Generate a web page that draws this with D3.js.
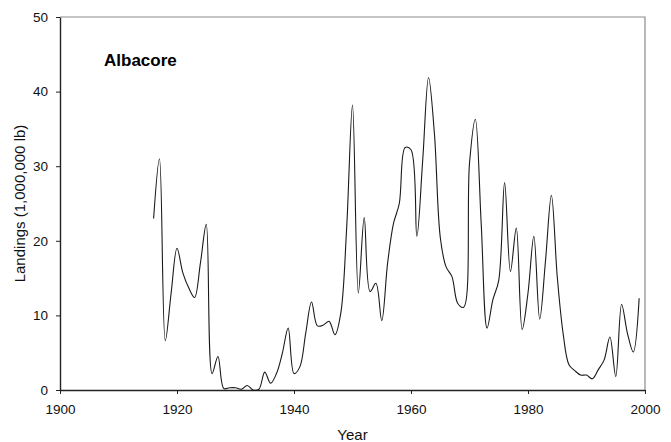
<!DOCTYPE html>
<html>
<head>
<meta charset="utf-8">
<script src="https://cdn.jsdelivr.net/npm/d3@7"></script>
<style>
  html, body { margin: 0; padding: 0; background: #fff; }
  svg { display: block; font-family: "Liberation Sans", Arial, sans-serif; }
</style>
</head>
<body>
<svg id="chart" width="671" height="442"></svg>
<script>
// Albacore landings by year, millions of pounds
const years = d3.range(1916, 2000);
const landings = [
  23.0, 31.0, 6.6, 13.0, 19.0, 15.7, 13.7, 12.4, 17.0, 22.2,
  2.2, 4.5, 0.2, 0.3, 0.3, 0.1, 0.6, 0.0, 0.1, 2.4,
  0.9, 2.2, 4.9, 8.3, 2.2, 3.1, 7.6, 11.8, 8.6, 8.7,
  9.2, 7.4, 10.3, 21.7, 38.2, 13.0, 23.1, 13.2, 14.3, 9.3,
  17.0, 22.3, 25.0, 32.5, 32.2, 20.6, 30.8, 41.9, 34.4, 20.5,
  16.5, 15.2, 11.6, 11.1, 30.4, 36.3, 22.3, 8.3, 12.1, 14.7,
  27.8, 15.9, 21.7, 8.1, 13.0, 20.6, 9.5, 17.4, 26.1, 15.2,
  7.6, 3.4, 2.6, 2.0, 2.0, 1.5, 2.7, 4.0, 7.1, 1.8,
  11.5, 7.6, 5.1, 12.3
];
const xTicks = [1900, 1920, 1940, 1960, 1980, 2000];
const yTicks = [0, 10, 20, 30, 40, 50];

const svg = d3.select("#chart");
const plotLeft = 60, plotRight = 645, plotTop = 17, plotBottom = 390;

const x = d3.scaleLinear().domain([1900, 2000]).range([plotLeft, plotRight]);
const y = d3.scaleLinear().domain([0, 50]).range([plotBottom, plotTop]);

// grey frame on top and right
svg.append("path")
  .attr("d", `M${plotLeft},${plotTop}H${plotRight}V${plotBottom}`)
  .attr("fill", "none")
  .attr("stroke", "#8c8c8c")
  .attr("stroke-width", 1.2);

// x axis
const xAxis = svg.append("g")
  .attr("transform", `translate(0,${plotBottom})`)
  .call(d3.axisBottom(x).tickValues(xTicks).tickFormat(d3.format("d"))
    .tickSize(4).tickPadding(10).tickSizeOuter(0));
xAxis.select(".domain").attr("stroke", "#222").attr("stroke-width", 1.4);
xAxis.selectAll(".tick line").attr("stroke", "#222");
xAxis.selectAll(".tick text").attr("font-size", 13.5).attr("fill", "#111")
  .attr("font-family", "Liberation Sans, Arial, sans-serif");

// y axis
const yAxis = svg.append("g")
  .attr("transform", `translate(${plotLeft},0)`)
  .call(d3.axisLeft(y).tickValues(yTicks).tickFormat(d3.format("d"))
    .tickSize(4).tickPadding(8).tickSizeOuter(0));
yAxis.select(".domain").attr("stroke", "#222").attr("stroke-width", 1.4);
yAxis.selectAll(".tick line").attr("stroke", "#222");
yAxis.selectAll(".tick text").attr("font-size", 13.5).attr("fill", "#111")
  .attr("font-family", "Liberation Sans, Arial, sans-serif");

// smoothed landings line
const line = d3.line()
  .x((d, i) => x(years[i]))
  .y(d => y(d))
  .curve(d3.curveCatmullRom.alpha(0.5));

svg.append("path")
  .datum(landings)
  .attr("d", line)
  .attr("fill", "none")
  .attr("stroke", "#1a1a1a")
  .attr("stroke-width", 1.1);

// titles
svg.append("text")
  .attr("x", 104).attr("y", 66)
  .attr("font-size", 17).attr("font-weight", "bold").attr("fill", "#000")
  .text("Albacore");

svg.append("text")
  .attr("x", (plotLeft + plotRight) / 2).attr("y", 440)
  .attr("text-anchor", "middle")
  .attr("font-size", 15).attr("fill", "#111")
  .text("Year");

svg.append("text")
  .attr("transform", `translate(24.5,${(plotTop + plotBottom) / 2}) rotate(-90)`)
  .attr("text-anchor", "middle")
  .attr("font-size", 15).attr("fill", "#111")
  .text("Landings (1,000,000 lb)");
</script>
</body>
</html>
